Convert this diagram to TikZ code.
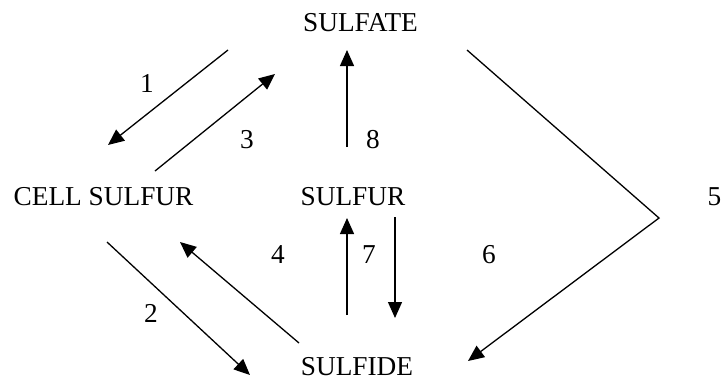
\documentclass[tikz,border=0pt]{standalone}
\usepackage{fontspec}
\setmainfont{Liberation Serif}
\usetikzlibrary{arrows.meta}
\begin{document}
\begin{tikzpicture}[x=1pt,y=-1pt,
  lbl/.style={inner sep=0pt,font=\fontsize{27.3}{32}\selectfont},
  conn/.style={line width=1.3pt,-{Triangle[length=16pt,width=14pt]}},
  plain/.style={line width=1.3pt}]
\useasboundingbox (0,0) rectangle (722,383);
% compartments
\node[lbl] (sulfate) at (360.5,23) {SULFATE};
\node[lbl] (cell) at (103.5,197) {CELL SULFUR};
\node[lbl] (sulfur) at (353,197) {SULFUR};
\node[lbl] (sulfide) at (357,367) {SULFIDE};
% reaction numbers
\node[lbl] (n1) at (147,83) {1};
\node[lbl] (n3) at (247,140) {3};
\node[lbl] (n8) at (373,140) {8};
\node[lbl] (n2) at (151,313) {2};
\node[lbl] (n4) at (278,255) {4};
\node[lbl] (n7) at (369,255) {7};
\node[lbl] (n6) at (489,255) {6};
\node[lbl] (n5) at (714.5,197) {5};
% connector end points
\coordinate (a1s) at (228,50);  \coordinate (a1e) at (108,145);
\coordinate (a3s) at (155,171); \coordinate (a3e) at (275,74);
\coordinate (a8s) at (347,147); \coordinate (a8e) at (347,50);
\coordinate (a2s) at (107,242); \coordinate (a2e) at (250,375);
\coordinate (a4s) at (299,343); \coordinate (a4e) at (180,242);
\coordinate (a7s) at (347,315); \coordinate (a7e) at (347,218);
\coordinate (a6s) at (395,217); \coordinate (a6e) at (395,318);
\coordinate (a5s) at (467,50);  \coordinate (a5m) at (659,218); \coordinate (a5e) at (468,361);
% connectors
\draw[conn] (a1s) -- (a1e);
\draw[conn] (a3s) -- (a3e);
\draw[conn] (a8s) -- (a8e);
\draw[conn] (a2s) -- (a2e);
\draw[conn] (a4s) -- (a4e);
\draw[conn] (a7s) -- (a7e);
\draw[conn] (a6s) -- (a6e);
\draw[conn] (a5s) -- (a5m) -- (a5e);
\end{tikzpicture}
\end{document}
